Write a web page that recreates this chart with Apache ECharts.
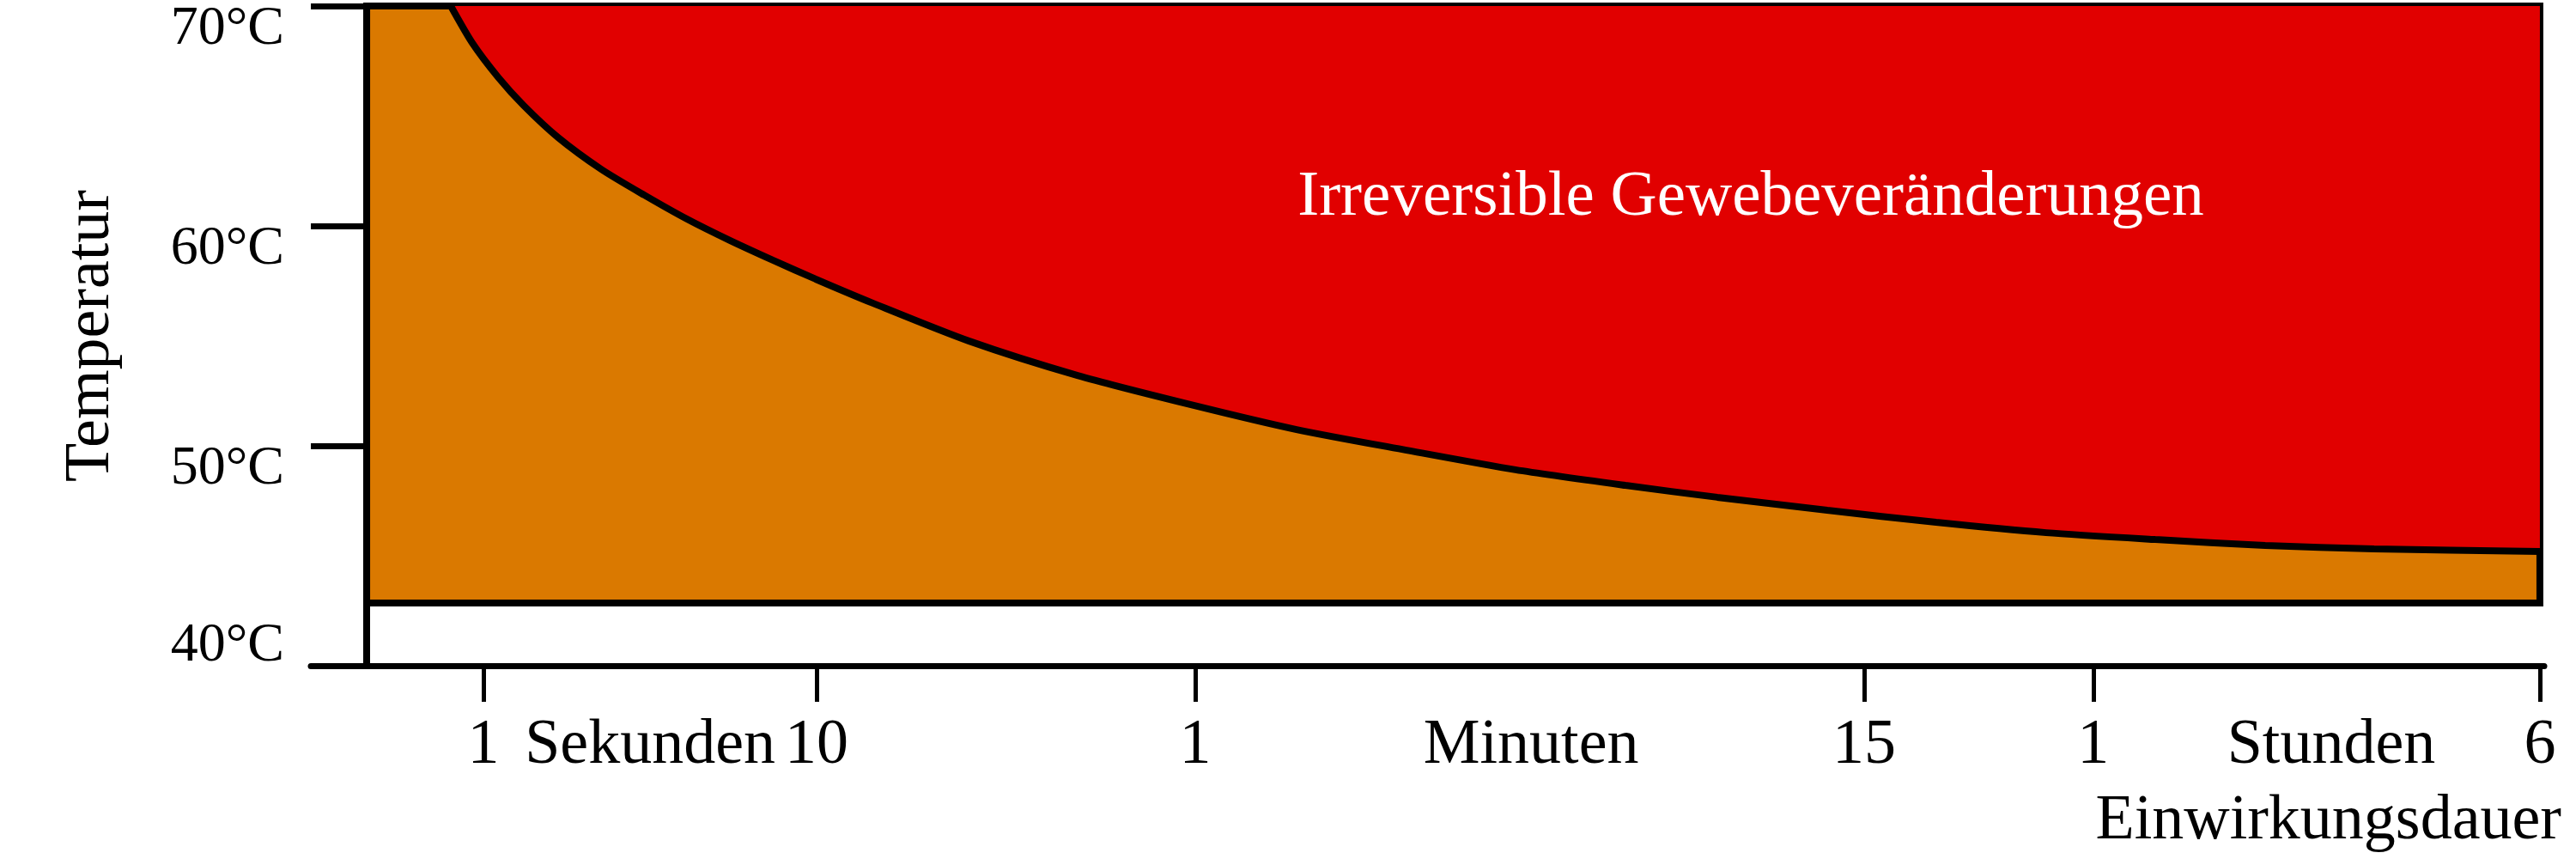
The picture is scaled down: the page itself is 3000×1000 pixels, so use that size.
<!DOCTYPE html>
<html>
<head>
<meta charset="utf-8">
<script src="https://cdn.jsdelivr.net/npm/echarts@6/dist/echarts.min.js"></script>
<style>
html,body{margin:0;padding:0;background:#fff;}
#chart{width:3000px;height:1000px;}
</style>
</head>
<body>
<div id="chart"></div>
<script>
// ---- data ----
const yTicks = [40, 50, 60, 70];
const xTickPos = [5.37, 20.70, 38.13, 68.91, 79.45, 100];
const xTickLabels = ['1', '10', '1', '15', '1', '6'];
const unitPos = [13.04, 53.58, 90.40];
const unitLabels = ['Sekunden', 'Minuten', 'Stunden'];
const curveX = [3.87, 4.86, 6.05, 7.23, 8.81, 10.79, 12.76, 14.74, 16.71, 18.69, 20.66, 23.31, 27.70, 32.71, 37.77, 42.79, 47.85, 52.86, 57.92, 62.15, 67.21, 72.22, 77.28, 82.30, 87.36, 92.37, 100];
const curveT = [70.0, 68.32, 66.76, 65.47, 64.02, 62.58, 61.41, 60.31, 59.34, 58.44, 57.58, 56.48, 54.77, 53.20, 51.91, 50.74, 49.80, 48.91, 48.20, 47.66, 47.07, 46.52, 46.05, 45.74, 45.47, 45.31, 45.20];
const zoneStart = 0, zoneEnd = 100, zoneBottom = 42.85, zoneTop = 70;
const regionLabel = 'Irreversible Gewebeveränderungen';
const yName = 'Temperatur';
const xName = 'Einwirkungsdauer';

const FONT = '"Liberation Serif", "Times New Roman", serif';
const allLabelPos = xTickPos.concat(unitPos);
const allLabelText = xTickLabels.concat(unitLabels);

const chart = echarts.init(document.getElementById('chart'), null, {renderer: 'canvas'});
chart.setOption({
  animation: false,
  backgroundColor: '#fff',
  grid: {left: 362, right: 37, top: 7, bottom: 225, containLabel: false, outerBoundsMode: 'none'},
  xAxis: {
    type: 'value', min: -2.57, max: 100.2,
    splitLine: {show: false},
    axisLine: {show: true, lineStyle: {color: '#000', width: 7}},
    axisTick: {show: true, customValues: xTickPos, length: 42, inside: false, lineStyle: {color: '#000', width: 5}},
    axisLabel: {
      show: true, customValues: allLabelPos, margin: 57,
      fontFamily: FONT, fontSize: 74, color: '#000',
      formatter: function (v) {
        for (let i = 0; i < allLabelPos.length; i++) if (Math.abs(allLabelPos[i] - v) < 1e-6) return allLabelText[i];
        return '';
      }
    },
    name: xName, nameLocation: 'end', nameGap: 20,
    nameTextStyle: {fontFamily: FONT, fontSize: 74, color: '#000', align: 'right', verticalAlign: 'top', padding: [145, 0, 0, 0]}
  },
  yAxis: {
    type: 'value', min: 40, max: 70, interval: 10,
    splitLine: {show: false},
    axisLine: {show: true, onZero: true, lineStyle: {color: '#000', width: 8}},
    axisTick: {show: true, length: 65, lineStyle: {color: '#000', width: 7}},
    axisLabel: {
      show: true, margin: 31, customValues: yTicks,
      formatter: function (v) { return v === yTicks[0] ? '{b|' + v + '°C}' : '{t|' + v + '°C}'; },
      rich: {
        t: {fontFamily: FONT, fontSize: 64, color: '#000', padding: [54, 0, 0, 0]},
        b: {fontFamily: FONT, fontSize: 64, color: '#000', padding: [0, 0, 46, 0]}
      }
    },
    name: yName, nameLocation: 'middle', nameRotate: 90, nameGap: 218,
    nameTextStyle: {fontFamily: FONT, fontSize: 74, color: '#000'}
  },
  graphic: [{
    type: 'text', x: 2039, y: 230, z: 100,
    style: {text: regionLabel, fill: '#fff', font: '75px ' + FONT, textAlign: 'center', textVerticalAlign: 'middle'}
  }],
  series: [
    {
      type: 'line', name: 'Reversibel', z: 1, silent: true,
      data: [[zoneStart, zoneTop]], symbol: 'none', lineStyle: {opacity: 0},
      markArea: {silent: true, itemStyle: {color: '#DA7900'}, data: [[{coord: [zoneStart, zoneBottom]}, {coord: [zoneEnd, zoneTop]}]]}
    },
    {
      type: 'line', name: 'Schwelle', z: 2, silent: true,
      data: curveX.map((x, i) => [x, curveT[i]]),
      smooth: 0.25, symbol: 'none',
      lineStyle: {color: '#000', width: 8},
      areaStyle: {color: '#E10000', opacity: 1, origin: 'end'}
    },
    {
      type: 'line', name: 'Rahmen', z: 3, silent: true,
      data: [[zoneStart, zoneTop]], symbol: 'none', lineStyle: {opacity: 0},
      markArea: {silent: true, itemStyle: {color: 'rgba(0,0,0,0)', borderColor: '#000', borderWidth: 8}, data: [[{coord: [zoneStart, zoneBottom]}, {coord: [zoneEnd, zoneTop]}]]}
    }
  ]
});
</script>
</body>
</html>
